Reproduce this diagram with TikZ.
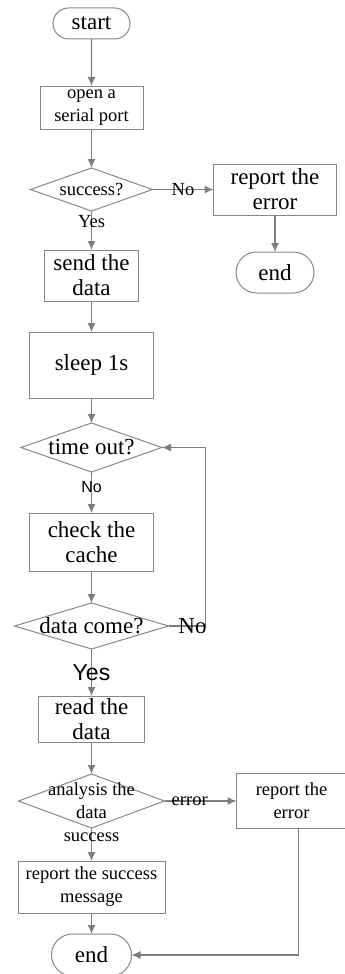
\documentclass[tikz,border=0pt]{standalone}
\usepackage{fontspec}
\setmainfont{Liberation Serif}
\setsansfont{Liberation Sans}
\usetikzlibrary{positioning, shapes, arrows.meta}

\definecolor{linegray}{RGB}{125,125,125}
\definecolor{boxgray}{RGB}{135,135,135}
\newcommand{\fbig}{\fontsize{23}{25}\selectfont}
\newcommand{\fsmall}{\fontsize{18.5}{23}\selectfont}

\begin{document}
\begin{tikzpicture}[x=1pt, y=1pt]
\tikzstyle{proc}=[rectangle, draw=boxgray, line width=1pt, align=center, inner sep=2pt, outer sep=0pt]
\tikzstyle{term}=[rounded rectangle, draw=boxgray, line width=1pt, inner sep=2pt, outer sep=0pt, font=\fbig]
\tikzstyle{decision}=[diamond, draw=boxgray, line width=1pt, inner sep=0pt, outer sep=0pt]
\tikzstyle{connect}=[draw=linegray, line width=1.2pt, -{Latex[length=9pt, width=8pt]}]
\tikzstyle{lbl}=[inner sep=0pt]
\useasboundingbox (0,0) rectangle (345,-974);
% main column
\node[term, minimum width=81pt, minimum height=31pt] (start) at (91.5,-23.5) {start};
\node[proc, minimum width=103pt, minimum height=43pt, font=\fsmall] (open) [below=47pt of start] {open a\\serial port};
\node[decision, minimum width=122pt, minimum height=43pt] (succ) [below=39pt of open, label={[font=\fsmall]center:success?}] {};
\node[proc, minimum width=94pt, minimum height=51pt, font=\fbig] (send) [below=39pt of succ] {send the\\data};
\node[proc, minimum width=124pt, minimum height=66pt, font=\fbig] (sleep) [below=31pt of send] {sleep 1s};
\node[decision, minimum width=141pt, minimum height=49pt] (tout) [below=25pt of sleep, label={[font=\fbig]center:time out?}] {};
\node[proc, minimum width=124pt, minimum height=58pt, font=\fbig] (check) [below=41pt of tout] {check the\\cache};
\node[decision, minimum width=154pt, minimum height=46pt] (dcome) [below=32pt of check, label={[font=\fbig]center:data come?}] {};
\node[proc, minimum width=106pt, minimum height=46pt, font=\fbig] (read) [below=47pt of dcome] {read the\\data};
\node[decision, minimum width=146pt, minimum height=54pt] (ana) [below=32pt of read, label={[font=\fsmall, align=center]center:{analysis the\\data}}] {};
\node[proc, minimum width=147pt, minimum height=52pt, font=\fsmall] (msg) [below=33pt of ana] {report the success\\message};
\node[term, minimum width=84pt, minimum height=42pt] (end2) [below=21pt of msg] {end};
% right column
\node[proc, minimum width=123pt, minimum height=51pt, font=\fbig] (rep1) [right=61pt of succ] {report the\\error};
\node[term, minimum width=82pt, minimum height=41pt] (end1) [below=37pt of rep1] {end};
\node[proc, minimum width=110pt, minimum height=55pt, font=\fsmall] (rep2) [right=72pt of ana] {report the\\error};
\path (start) edge [connect] (open)
      (open) edge [connect] (succ)
      (succ) edge [connect] node[lbl, font=\fsmall] {No} (rep1)
      (succ) edge [connect] node[lbl, font=\fsmall, pos=.28] {Yes} (send)
      (rep1) edge [connect] (end1)
      (send) edge [connect] (sleep)
      (sleep) edge [connect] (tout)
      (tout) edge [connect] node[lbl, font=\sffamily\fontsize{16}{16}\selectfont, pos=.37] {No} (check)
      (check) edge [connect] (dcome)
      (dcome) edge [connect] node[lbl, font=\sffamily\fbig] {Yes} (read)
      (read) edge [connect] (ana)
      (ana) edge [connect] node[lbl, font=\fsmall, pos=.35] {error} (rep2)
      (ana) edge [connect] node[lbl, font=\fsmall, pos=.27] {success} (msg)
      (msg) edge [connect] (end2);
\draw[connect] (dcome.east) -- node[lbl, font=\fbig, pos=.65] {No} ++(37,0) |- (tout.east);
\draw[connect] ([xshift=7pt]rep2.south) |- (end2.east);
\end{tikzpicture}
\end{document}
